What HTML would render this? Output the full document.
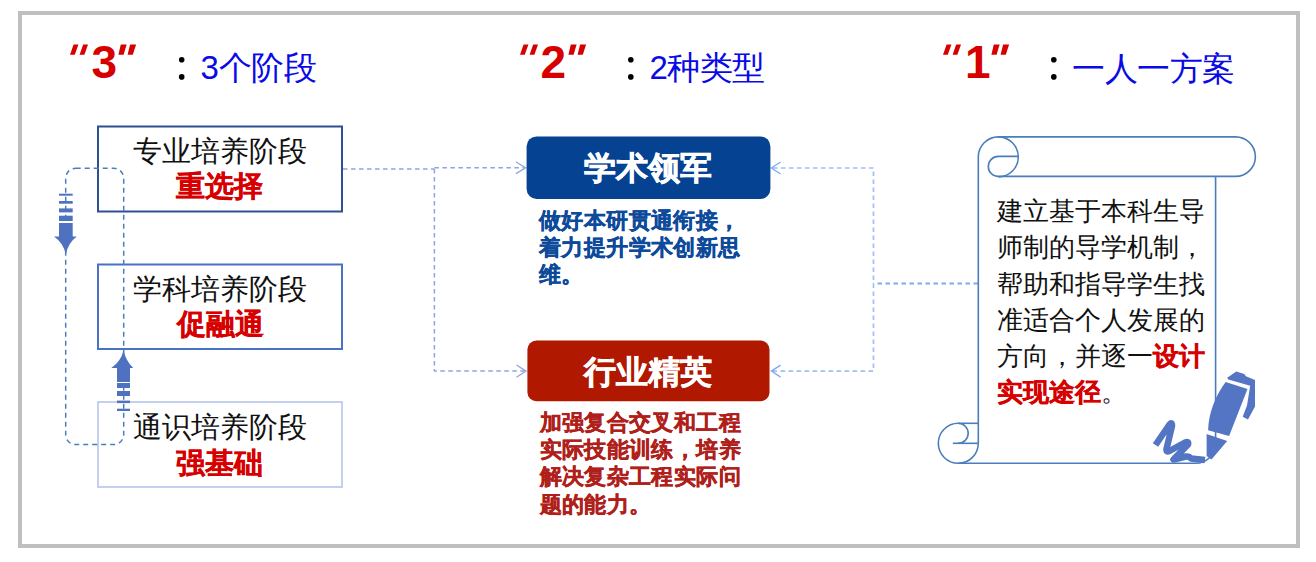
<!DOCTYPE html>
<html><head><meta charset="utf-8">
<style>
html,body{margin:0;padding:0;background:#fff;width:1316px;height:562px;overflow:hidden;}
body{position:relative;font-family:"Liberation Sans",sans-serif;}
.t{position:absolute;white-space:nowrap;line-height:1;}
svg{position:absolute;left:0;top:0;}
</style></head><body>
<svg width="1316" height="562" viewBox="0 0 1316 562">
  <!-- outer frame -->
  <rect x="20" y="13" width="1278" height="533" fill="none" stroke="#bfbfbf" stroke-width="4"/>

  <!-- title quotes -->
  <g fill="#d70000">
    <g id="q3" transform="translate(70,0)">
      <polygon points="3.6,44.4 8.4,44.4 4.8,54.8 0,54.8"/>
      <polygon points="13.2,44.4 18,44.4 14.4,54.8 9.6,54.8"/>
      <polygon points="50.8,44.4 56.6,44.4 53.6,54.8 48.4,54.8"/>
      <polygon points="60.1,44.4 66.1,44.4 62.8,54.8 57.6,54.8"/>
    </g>
    <use href="#q3" transform="translate(450,0)"/>
    <use href="#q3" transform="translate(873,0)"/>
  </g>
  <!-- colons -->
  <g fill="#000">
    <circle cx="181.7" cy="59.8" r="2.8"/><circle cx="181.7" cy="76.9" r="2.8"/>
    <circle cx="630.8" cy="59.8" r="2.8"/><circle cx="630.8" cy="76.9" r="2.8"/>
    <circle cx="1053.8" cy="59.8" r="2.8"/><circle cx="1053.8" cy="76.9" r="2.8"/>
  </g>

  <!-- stage boxes -->
  <rect x="98" y="126.5" width="244" height="85" fill="none" stroke="#2f4f93" stroke-width="2"/>
  <rect x="98" y="264.5" width="244" height="84.5" fill="none" stroke="#4a72c4" stroke-width="2"/>
  <rect x="98" y="402" width="244" height="85" fill="none" stroke="#b4c6ea" stroke-width="1.6"/>

  <!-- dashed loop -->
  <rect x="65.7" y="168.3" width="58" height="276.3" rx="10" ry="10" fill="none" stroke="#4a7ebb" stroke-width="1.5" stroke-dasharray="5 4"/>

  <!-- down striped arrow -->
  <g fill="#4f72c0">
    <rect x="59" y="193.7" width="13.7" height="2"/>
    <rect x="59" y="201" width="13.7" height="2.7"/>
    <rect x="59" y="208.4" width="13.7" height="4"/>
    <rect x="59" y="215.7" width="13.7" height="5.3"/>
    <rect x="59" y="223" width="13.7" height="14"/>
    <path d="M54,236.4 L76.7,236.4 Q68,243 65.8,254.4 Q63.6,243 54,236.4 Z"/>
  </g>
  <!-- up striped arrow -->
  <g fill="#4f72c0">
    <path d="M111.3,368 L133.3,368 Q126,361 123.5,350.4 Q121,361 111.3,368 Z"/>
    <rect x="117" y="367" width="13" height="15"/>
    <rect x="117" y="383" width="13" height="5"/>
    <rect x="117" y="391" width="13" height="5"/>
    <rect x="117" y="400.6" width="13" height="2.5"/>
    <rect x="117" y="408.7" width="13" height="2.3"/>
  </g>

  <!-- left connectors -->
  <g fill="none" stroke="#8fa6dc" stroke-width="1.5" stroke-dasharray="4.5 3.5">
    <path d="M343,169 H434.4"/>
    <path d="M434.4,167.8 H524"/>
    <path d="M434.4,169 V371.1 H524"/>
  </g>
  <g fill="none" stroke="#8fa6dc" stroke-width="1.3">
    <path d="M516,162 L525.7,167.8 L516,173.6"/>
    <path d="M516.5,365 L526,371.1 L516.5,377.2"/>
  </g>

  <!-- right connectors -->
  <g fill="none" stroke="#9dc0f3" stroke-width="1.7" stroke-dasharray="4.5 3.5">
    <path d="M773,168 H873.5 V371.1 H773"/>
  </g>
  <path d="M978,283.6 H873.5" fill="none" stroke="#7aaaf0" stroke-width="2" stroke-dasharray="4.5 3.5"/>
  <g fill="none" stroke="#7aaaf0" stroke-width="1.3">
    <path d="M780.6,162 L771.4,168 L780.6,174"/>
    <path d="M780.6,365.1 L771.4,371.1 L780.6,377.1"/>
  </g>

  <!-- center boxes -->
  <rect x="526.6" y="136.4" width="243.8" height="62.6" rx="10" fill="#054291"/>
  <rect x="527.4" y="340.6" width="242.1" height="60.6" rx="9" fill="#b01800"/>

  <!-- scroll -->
  <g fill="none" stroke="#4a7ebb" stroke-width="1.6">
    <path d="M978.3,443.3 V156.9 A20,20 0 0 1 998.3,136.9 H1235.6 A19.75,19.75 0 0 1 1235.6,176.4 H998.3"/>
    <path d="M998.3,136.9 A20,20 0 0 1 998.3,176.9"/>
    <path d="M1018.3,156.4 H998.3 A10,10 0 0 0 998.3,176.4"/>
    <path d="M1215.6,176.4 V443.3 A20,20 0 0 1 1195.6,463.3 H958.2"/>
    <path d="M978.3,443.3 A20,20 0 1 1 958.2,423.3"/>
    <path d="M958.2,423.3 H978.3"/>
    <path d="M958.2,423.3 A10,10 0 0 1 958.2,443.3"/>
    <path d="M952.8,443.3 H978.3"/>
  </g>
</svg>

<!-- titles -->
<div class="t" style="left:91.5px;top:39px;font-size:46px;font-weight:bold;color:#d70000">3</div>
<div class="t" style="left:200.5px;top:51px;font-size:33px;letter-spacing:-0.3px;color:#0a0ae6">3个阶段</div>
<div class="t" style="left:540.5px;top:39px;font-size:46px;font-weight:bold;color:#d70000">2</div>
<div class="t" style="left:649.5px;top:51px;font-size:33px;letter-spacing:-0.5px;color:#0a0ae6">2种类型</div>
<div class="t" style="left:965px;top:39px;font-size:46px;font-weight:bold;color:#d70000">1</div>
<div class="t" style="left:1072px;top:52px;font-size:33px;letter-spacing:-0.4px;color:#0a0ae6">一人一方案</div>

<!-- stage box text -->
<div class="t" style="left:133px;top:137px;font-size:29px;color:#111">专业培养阶段</div>
<div class="t" style="left:176px;top:172px;font-size:29px;font-weight:bold;color:#d70000;-webkit-text-stroke:0.3px #d70000">重选择</div>
<div class="t" style="left:133px;top:275px;font-size:29px;color:#111">学科培养阶段</div>
<div class="t" style="left:176.5px;top:309.5px;font-size:29px;font-weight:bold;color:#d70000;-webkit-text-stroke:0.3px #d70000">促融通</div>
<div class="t" style="left:133px;top:412.5px;font-size:29px;color:#111">通识培养阶段</div>
<div class="t" style="left:176px;top:448.5px;font-size:29px;font-weight:bold;color:#d70000;-webkit-text-stroke:0.3px #d70000">强基础</div>

<!-- center text -->
<div class="t" style="left:584px;top:152px;font-size:32px;font-weight:bold;color:#fff;-webkit-text-stroke:0.6px #fff">学术领军</div>
<div class="t" style="left:539px;top:206.5px;font-size:22px;font-weight:bold;color:#0d4a9b;line-height:27px;letter-spacing:0.4px;-webkit-text-stroke:0.4px #0d4a9b">做好本研贯通衔接，<br>着力提升学术创新思<br>维。</div>
<div class="t" style="left:584px;top:356px;font-size:32px;font-weight:bold;color:#fff;-webkit-text-stroke:0.6px #fff">行业精英</div>
<div class="t" style="left:539.5px;top:409px;font-size:22px;font-weight:bold;color:#b0201a;line-height:27.2px;letter-spacing:0.4px;-webkit-text-stroke:0.4px #b0201a">加强复合交叉和工程<br>实际技能训练，培养<br>解决复杂工程实际问<br>题的能力。</div>

<!-- scroll text -->
<div class="t" style="left:997px;top:193px;font-size:26px;color:#111;line-height:36.3px">建立基于本科生导<br>师制的导学机制，<br>帮助和指导学生找<br>准适合个人发展的<br>方向，并逐一<b style="color:#d70000;-webkit-text-stroke:0.3px #d70000">设计</b><br><b style="color:#d70000;-webkit-text-stroke:0.3px #d70000">实现途径</b>。</div>

<!-- pen icon -->
<svg width="1316" height="562" viewBox="0 0 1316 562">
  <g fill="#5474c4">
    <path d="M1227.2,377.8 L1236.3,371.4 L1244.3,374.1 L1245.9,376.2 L1255,379.9 L1255,406.6 L1248,419.4 L1242.7,416.8 L1247,405.6 L1250.2,385.8 L1228.3,379.4 Z"/>
    <path d="M1225.6,382.1 L1247.5,389 L1229.1,436 L1208.1,430.2 Q1209,405 1225.6,382.1 Z"/>
    <path d="M1206.6,434.1 L1227.2,440.9 L1211.5,459.5 L1206.6,456 Z"/>
  </g>
  <path d="M1155.5,445 L1169.5,424.5 Q1172,421.5 1172,426 L1166.5,449 Q1166,452.5 1169.5,451 L1185,442.5 Q1189,441 1188,444.5 L1173.5,459.5 L1186,456.5 Q1189,456 1191,458.5 L1205,460" fill="none" stroke="#5474c4" stroke-width="6.5" stroke-linejoin="round" stroke-linecap="butt"/>
</svg>
</body></html>
